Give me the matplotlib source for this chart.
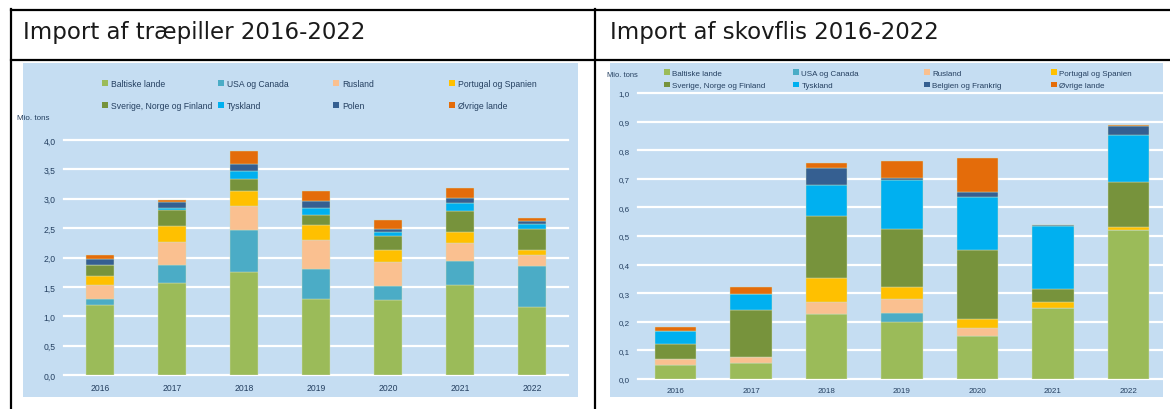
import matplotlib
matplotlib.use("Agg")
import matplotlib.pyplot as plt
from matplotlib.patches import Rectangle, Patch
from matplotlib.lines import Line2D

years = ["2016", "2017", "2018", "2019", "2020", "2021", "2022"]

# cumulative tops (Mio. tons), converted to layers below
pellet_series = ["Baltiske lande", "USA og Canada", "Rusland", "Portugal og Spanien",
                 "Sverige, Norge og Finland", "Tyskland", "Polen", "Øvrige lande"]
pellet_tops = [
    [1.20, 1.56, 1.75, 1.29, 1.27, 1.53, 1.16],
    [1.29, 1.87, 2.46, 1.80, 1.51, 1.94, 1.85],
    [1.54, 2.27, 2.87, 2.30, 1.93, 2.25, 2.05],
    [1.69, 2.54, 3.13, 2.55, 2.13, 2.43, 2.13],
    [1.87, 2.81, 3.34, 2.73, 2.36, 2.80, 2.49],
    [1.88, 2.84, 3.48, 2.85, 2.43, 2.92, 2.57],
    [1.97, 2.95, 3.59, 2.97, 2.49, 3.02, 2.62],
    [2.05, 2.98, 3.82, 3.13, 2.64, 3.19, 2.67],
]

chip_series = ["Baltiske lande", "USA og Canada", "Rusland", "Portugal og Spanien",
               "Sverige, Norge og Finland", "Tyskland", "Belgien og Frankrig", "Øvrige lande"]
chip_tops = [
    [0.049, 0.056, 0.227, 0.198, 0.152, 0.249, 0.521],
    [0.049, 0.056, 0.227, 0.231, 0.152, 0.249, 0.521],
    [0.070, 0.077, 0.269, 0.279, 0.177, 0.249, 0.521],
    [0.070, 0.077, 0.353, 0.322, 0.210, 0.269, 0.531],
    [0.121, 0.241, 0.571, 0.523, 0.450, 0.316, 0.688],
    [0.167, 0.297, 0.678, 0.697, 0.636, 0.534, 0.853],
    [0.167, 0.297, 0.738, 0.702, 0.655, 0.538, 0.886],
    [0.182, 0.322, 0.755, 0.761, 0.772, 0.540, 0.888],
]

colors = ["#9BBB59", "#4BACC6", "#FAC090", "#FFC000",
          "#77933C", "#00B0F0", "#355F91", "#E46C0A"]

BG = "#C5DDF2"
TXT = "#243F60"

W, H = 1170, 410
fig = plt.figure(figsize=(11.7, 4.1), dpi=100)


def fx(x):
    return x / W


def fy(y):
    return 1 - y / H


def layers(tops):
    out, prev = [], [0] * len(tops[0])
    for row in tops:
        out.append([max(t - p, 0) for t, p in zip(row, prev)])
        prev = row
    return out


# table frame
for xs, ys in [((11, W), (10.5, 10.5)), ((11, W), (61, 61)),
               ((11, 11), (10, H)), ((595, 595), (10, H))]:
    fig.add_artist(Line2D([fx(x) for x in xs], [fy(y) for y in ys],
                          color="black", lw=1.6))

fig.text(fx(23), fy(33), "Import af træpiller 2016-2022", fontsize=16.5,
         family="DejaVu Sans", color="#1a1a1a", va="center", ha="left")
fig.text(fx(610), fy(33), "Import af skovflis 2016-2022", fontsize=16.5,
         family="DejaVu Sans", color="#1a1a1a", va="center", ha="left")

# light blue chart panels
for x0, x1 in [(23, 578), (610, 1163)]:
    fig.add_artist(Rectangle((fx(x0), fy(398)), fx(x1 - x0), (398 - 64) / H,
                             facecolor=BG, edgecolor="none", zorder=-5))


def draw(rect, series, tops, ymax, step, bar_w, fs, leg_x, leg_y, leg_sp, unit_xy):
    x0, y0, x1, y1 = rect
    ax = fig.add_axes([fx(x0), fy(y1), fx(x1 - x0), (y1 - y0) / H])
    ax.patch.set_visible(False)
    bottom = [0] * len(years)
    handles = []
    for name, vals, c in zip(series, layers(tops), colors):
        ax.bar(range(len(years)), vals, bar_w, bottom=bottom, color=c, zorder=3,
               edgecolor="#d0e0c0", linewidth=0.3)
        bottom = [b + v for b, v in zip(bottom, vals)]
        handles.append(Patch(facecolor=c, label=name))
    ax.set_xlim(-0.5, 6.5)
    ax.set_ylim(0, ymax)
    ticks = [i * step for i in range(int(round(ymax / step)) + 1)]
    ax.set_yticks(ticks)
    ax.set_yticklabels([f"{t:.1f}".replace(".", ",") for t in ticks])
    ax.set_xticks(range(len(years)))
    ax.set_xticklabels(years)
    ax.tick_params(length=0, labelsize=fs, colors=TXT, pad=6)
    for lab in ax.get_xticklabels() + ax.get_yticklabels():
        lab.set_family("Liberation Sans")
    for s in ax.spines.values():
        s.set_visible(False)
    ax.yaxis.grid(True, color="white", lw=1.6, zorder=0)
    ax.set_axisbelow(True)
    for g in ax.get_ygridlines():
        g.set_clip_on(False)

    fig.text(fx(unit_xy[0]), fy(unit_xy[1]), "Mio. tons", fontsize=fs - 0.4,
             family="Liberation Sans", color=TXT, ha="center", va="center")
    for j, xl in enumerate(leg_x):
        leg = fig.legend(handles=[handles[j], handles[j + 4]], loc="upper left",
                         bbox_to_anchor=(fx(xl), fy(leg_y)), frameon=False,
                         prop={"family": "Liberation Sans", "size": fs},
                         handlelength=0.75, handleheight=0.75, handletextpad=0.3,
                         labelspacing=leg_sp, borderaxespad=0, borderpad=0)
        for t in leg.get_texts():
            t.set_color(TXT)
    return ax


draw((64, 141, 568, 376), pellet_series, pellet_tops, 4.0, 0.5, 0.40, 6.2,
     [102, 218, 333, 449], 80, 1.55, (33, 118))
draw((638, 94, 1166, 380), chip_series, chip_tops, 1.0, 0.1, 0.55, 5.8,
     [664, 793, 924, 1051], 70, 0.6, (622, 76))

fig.savefig("out.png", dpi=100)
